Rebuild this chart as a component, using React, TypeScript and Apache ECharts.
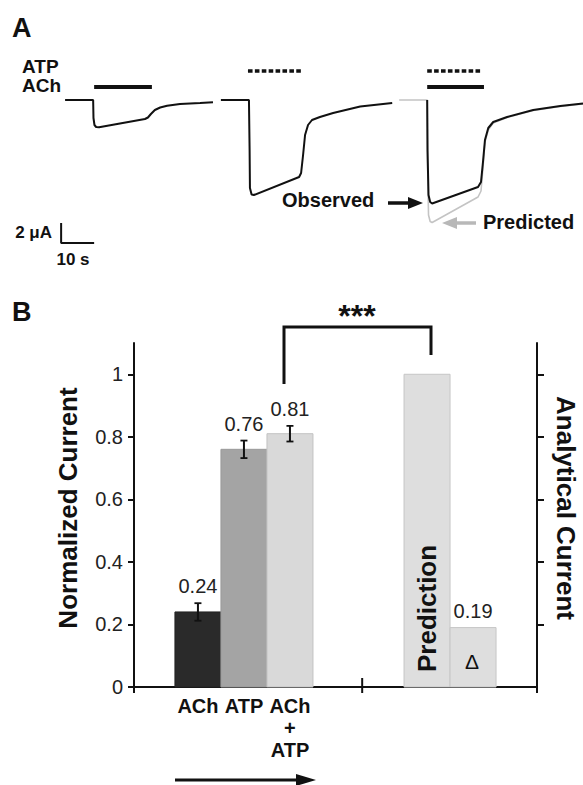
import React, { useEffect, useRef } from 'react';
import * as echarts from 'echarts';

const FONT = '"Liberation Sans", Arial, Helvetica, sans-serif';

// ---------- Panel A: current traces [time (s), current (µA)] ----------
const traceACh: [number, number][] = [
  [7.6, 0], [16.1, 0], [16.2, -1.8], [16.5, -2.5], [17.0, -2.7], [17.9, -2.73],
  [31.8, -1.9], [32.7, -1.75], [33.6, -1.4], [34.8, -1.0], [36.4, -0.75],
  [38.5, -0.58], [42.4, -0.4], [48.5, -0.3], [52.4, -0.23],
];
const traceATP: [number, number][] = [
  [54.8, 0], [63.3, 0], [63.5, -5], [63.6, -8.8], [64.1, -9.45], [64.8, -9.5],
  [78.5, -7.7], [79.1, -7.3], [79.7, -5.5], [80.3, -3.5], [81.2, -2.5],
  [82.4, -2.0], [84.8, -1.7], [88.8, -1.3], [97.0, -0.65], [106.7, -0.3],
];
const traceObserved: [number, number][] = [
  [117.3, 0], [117.4, -5], [117.7, -9.5], [118.2, -10.2], [118.8, -10.35],
  [132.7, -8.7], [133.6, -8.2], [134.2, -6.2], [134.8, -4.0], [135.8, -2.8],
  [137.3, -2.2], [141.5, -1.7], [149.4, -1.0], [157.6, -0.6], [164.5, -0.35],
];
const tracePredicted: [number, number][] = [
  [108.8, 0], [117.3, 0], [117.4, -6], [117.7, -11.5], [118.2, -12.15], [118.8, -12.25],
  [132.7, -9.7], [133.6, -9.1], [134.2, -6.8], [134.8, -4.2], [135.8, -3.0],
  [137.3, -2.3], [141.5, -1.75], [149.4, -1.05], [157.6, -0.65], [164.5, -0.4],
];
const achApplications: [number, number][] = [[16.4, 33.9], [117.3, 134.5]];
const atpApplications: [number, number][] = [[63.0, 79.7], [117.3, 133.6]];
const stimulusLabels = ['ATP', 'ACh'];
const scaleTime = 10; // s
const scaleCurrent = 2; // µA

// ---------- Panel B: normalized currents ----------
const measuredCategories = ['ACh', 'ATP', 'ACh\n+\nATP'];
const measuredValues = [0.24, 0.76, 0.81];
const measuredErrors = [0.028, 0.028, 0.025];
const analyticalCategories = ['Prediction', 'Δ'];
const analyticalValues = [1.0, 0.19];
const yTickValues = [0, 0.2, 0.4, 0.6, 0.8, 1];

const GROUP_START = 0.89;
const ANALYTIC_START = 5.87;
const DIVIDER = 4.96;
const X_MAX = 8.76;

const measuredColors = [
  { fill: '#2a2a2a', stroke: '#222' },
  { fill: '#a4a4a4', stroke: '#999' },
  { fill: '#d9d9d9', stroke: '#c2c2c2' },
];
const analyticColors = [
  { fill: '#dedede', stroke: '#c6c6c6' },
  { fill: '#dedede', stroke: '#c6c6c6' },
];

export default function App() {
  const ref = useRef<HTMLDivElement>(null);

  useEffect(() => {
    if (!ref.current) return;
    const chart = echarts.init(ref.current, undefined, { renderer: 'svg' });

    const ACH_LEVEL = 1.3;
    const ATP_LEVEL = 2.9;
    const SB_T = 6.4;
    const SB_I = -14.3;

    const stimSeries: any[] = [];
    achApplications.forEach((iv) => {
      stimSeries.push({
        type: 'line', xAxisIndex: 0, yAxisIndex: 0, symbol: 'none', silent: true,
        data: [[iv[0], ACH_LEVEL], [iv[1], ACH_LEVEL]],
        lineStyle: { color: '#111', width: 4 },
      });
    });
    atpApplications.forEach((iv) => {
      stimSeries.push({
        type: 'line', xAxisIndex: 0, yAxisIndex: 0, symbol: 'none', silent: true,
        data: [[iv[0], ATP_LEVEL], [iv[1], ATP_LEVEL]],
        lineStyle: { color: '#111', width: 3.5, type: [4.6, 2.3] },
      });
    });

    const traceLine = (data: [number, number][], color: string, width: number) => ({
      type: 'line', xAxisIndex: 0, yAxisIndex: 0, symbol: 'none', silent: true,
      data, lineStyle: { color, width }, z: 3,
    });

    const barRender = (colors: { fill: string; stroke: string }[], names: string[]) =>
      (params: any, api: any) => {
        const x = api.value(0);
        const v = api.value(1);
        const e = api.value(2);
        const idx = api.value(3);
        const tl = api.coord([x - 0.5, v]);
        const br = api.coord([x + 0.5, 0]);
        const cx = (tl[0] + br[0]) / 2;
        const children: any[] = [
          {
            type: 'rect',
            shape: { x: tl[0], y: tl[1], width: br[0] - tl[0], height: br[1] - tl[1] },
            style: { fill: colors[idx].fill, stroke: colors[idx].stroke, lineWidth: 1 },
          },
        ];
        let top = tl[1];
        if (e > 0) {
          const pt = api.coord([x, v + e]);
          const pb = api.coord([x, v - e]);
          top = pt[1];
          children.push({ type: 'line', shape: { x1: cx, y1: pt[1], x2: cx, y2: pb[1] }, style: { stroke: '#111', lineWidth: 2 } });
          children.push({ type: 'line', shape: { x1: cx - 3.5, y1: pt[1], x2: cx + 3.5, y2: pt[1] }, style: { stroke: '#111', lineWidth: 1.8 } });
          children.push({ type: 'line', shape: { x1: cx - 3.5, y1: pb[1], x2: cx + 3.5, y2: pb[1] }, style: { stroke: '#111', lineWidth: 1.8 } });
        }
        const name = names[idx];
        if (name === 'Prediction') {
          children.push({
            type: 'text', x: cx, y: br[1] - 15, rotation: Math.PI / 2,
            style: { text: name, fontFamily: FONT, fontSize: 26, fontWeight: 'bold', fill: '#111', align: 'left', verticalAlign: 'middle' },
          });
        } else {
          children.push({
            type: 'text', x: cx, y: top - 17,
            style: { text: v.toFixed(2), fontFamily: FONT, fontSize: 20, fill: '#222', align: 'center', verticalAlign: 'middle' },
          });
          if (name === 'Δ') {
            children.push({
              type: 'text', x: cx - 1, y: br[1] - 26,
              style: { text: name, fontFamily: FONT, fontSize: 21, fill: '#111', align: 'center', verticalAlign: 'middle' },
            });
          }
        }
        return { type: 'group', children };
      };

    const option: any = {
      animation: false,
      backgroundColor: '#fff',
      textStyle: { fontFamily: FONT },
      grid: [
        { left: 40, right: 0, top: 60, height: 190 },
        { left: 134, right: 46, top: 343, bottom: 98 },
      ],
      xAxis: [
        { type: 'value', gridIndex: 0, min: 0, max: 164.5, show: false },
        {
          type: 'value', gridIndex: 1, min: 0, max: X_MAX,
          splitLine: { show: false },
          axisLine: { show: true, onZero: false, lineStyle: { color: '#111', width: 2 } },
          axisTick: { show: true, customValues: [0, X_MAX], length: 6, lineStyle: { color: '#111', width: 2 } },
          axisLabel: {
            show: true,
            customValues: measuredCategories.map((_, i) => GROUP_START + 0.5 + i),
            formatter: (val: number) => {
              const i = Math.round(val - GROUP_START - 0.5);
              return measuredCategories[i] ?? '';
            },
            fontFamily: FONT, fontSize: 20, fontWeight: 'bold', color: '#111',
            lineHeight: 22, margin: 8,
          },
        },
      ],
      yAxis: [
        { type: 'value', gridIndex: 0, min: -15, max: 4, show: false },
        {
          type: 'value', gridIndex: 1, min: 0, max: 1.1, position: 'left',
          splitLine: { show: false },
          axisLine: { show: true, lineStyle: { color: '#111', width: 2 } },
          axisTick: { show: true, customValues: yTickValues, length: 6, lineStyle: { color: '#111', width: 2 } },
          axisLabel: {
            show: true, customValues: yTickValues, margin: 11,
            fontFamily: FONT, fontSize: 20, color: '#222',
          },
        },
        {
          type: 'value', gridIndex: 1, min: 0, max: 1.1, position: 'right',
          splitLine: { show: false },
          axisLine: { show: true, lineStyle: { color: '#111', width: 2 } },
          axisTick: { show: true, customValues: yTickValues.slice(1), length: 7, lineStyle: { color: '#111', width: 2 } },
          axisLabel: { show: false },
        },
      ],
      series: [
        ...stimSeries,
        traceLine(traceACh, '#111', 2),
        traceLine(traceATP, '#111', 2),
        traceLine(tracePredicted, '#c4c4c4', 1.6),
        traceLine(traceObserved, '#111', 2),
        {
          type: 'line', xAxisIndex: 0, yAxisIndex: 0, symbol: 'none', silent: true,
          data: [[SB_T, SB_I + scaleCurrent], [SB_T, SB_I], [SB_T + scaleTime, SB_I]],
          lineStyle: { color: '#111', width: 2 },
        },
        {
          type: 'custom', xAxisIndex: 1, yAxisIndex: 1, silent: true,
          renderItem: barRender(measuredColors, measuredCategories),
          data: measuredValues.map((v, i) => [GROUP_START + 0.5 + i, v, measuredErrors[i], i]),
        },
        {
          type: 'custom', xAxisIndex: 1, yAxisIndex: 1, silent: true,
          renderItem: barRender(analyticColors, analyticalCategories),
          data: analyticalValues.map((v, i) => [ANALYTIC_START + 0.5 + i, v, 0, i]),
        },
        {
          type: 'custom', xAxisIndex: 1, yAxisIndex: 1, silent: true,
          renderItem: (params: any, api: any) => {
            const p = api.coord([api.value(0), 0]);
            return { type: 'line', shape: { x1: p[0], y1: p[1] - 9, x2: p[0], y2: p[1] + 6 }, style: { stroke: '#111', lineWidth: 2 } };
          },
          data: [[DIVIDER]],
          z: 5,
        },
      ],
      graphic: [
        { type: 'text', x: 12, y: 28, style: { text: 'A', fontFamily: FONT, fontSize: 27, fontWeight: 'bold', fill: '#111', verticalAlign: 'middle' } },
        { type: 'text', x: 22, y: 66, style: { text: stimulusLabels[0], fontFamily: FONT, fontSize: 19, lineHeight: 19, fontWeight: 'bold', fill: '#111', verticalAlign: 'middle' } },
        { type: 'text', x: 22, y: 85.5, style: { text: stimulusLabels[1], fontFamily: FONT, fontSize: 19, lineHeight: 19, fontWeight: 'bold', fill: '#111', verticalAlign: 'middle' } },
        { type: 'text', x: 282, y: 200, style: { text: 'Observed', fontFamily: FONT, fontSize: 20, fontWeight: 'bold', fill: '#111', verticalAlign: 'middle' } },
        { type: 'line', shape: { x1: 388, y1: 203, x2: 410, y2: 203 }, style: { stroke: '#111', lineWidth: 3.5 } },
        { type: 'polygon', shape: { points: [[408, 197], [423, 203], [408, 209]] }, style: { fill: '#111' } },
        { type: 'text', x: 483, y: 222, style: { text: 'Predicted', fontFamily: FONT, fontSize: 20, fontWeight: 'bold', fill: '#111', verticalAlign: 'middle' } },
        { type: 'line', shape: { x1: 455, y1: 223, x2: 476, y2: 223 }, style: { stroke: '#b8b8b8', lineWidth: 3.5 } },
        { type: 'polygon', shape: { points: [[442, 223], [457, 217], [457, 229]] }, style: { fill: '#b8b8b8' } },
        { type: 'text', x: 52, y: 232, style: { text: '2 μA', fontFamily: FONT, fontSize: 17, fontWeight: 'bold', fill: '#111', align: 'right', verticalAlign: 'middle' } },
        { type: 'text', x: 73, y: 259, style: { text: '10 s', fontFamily: FONT, fontSize: 17, fontWeight: 'bold', fill: '#111', align: 'center', verticalAlign: 'middle' } },
        { type: 'text', x: 12, y: 312, style: { text: 'B', fontFamily: FONT, fontSize: 27, fontWeight: 'bold', fill: '#111', verticalAlign: 'middle' } },
        { type: 'text', x: 357, y: 316, style: { text: '***', fontFamily: FONT, fontSize: 32, fontWeight: 'bold', fill: '#111', align: 'center', verticalAlign: 'middle' } },
        { type: 'polyline', shape: { points: [[284, 384], [284, 327], [431, 327], [431, 355]] }, style: { stroke: '#111', lineWidth: 3, fill: 'none' } },
        { type: 'text', x: 67.5, y: 508, rotation: Math.PI / 2, style: { text: 'Normalized Current', fontFamily: FONT, fontSize: 26, fontWeight: 'bold', fill: '#111', align: 'center', verticalAlign: 'middle' } },
        { type: 'text', x: 566, y: 508, rotation: -Math.PI / 2, style: { text: 'Analytical Current', fontFamily: FONT, fontSize: 26, fontWeight: 'bold', fill: '#111', align: 'center', verticalAlign: 'middle' } },
        { type: 'line', shape: { x1: 175, y1: 780, x2: 298, y2: 780 }, style: { stroke: '#111', lineWidth: 3 } },
        { type: 'polygon', shape: { points: [[296, 774], [316, 780], [296, 786]] }, style: { fill: '#111' } },
      ],
    };

    chart.setOption(option);
    return () => chart.dispose();
  }, []);

  return (
    <div
      ref={ref}
      style={{ position: 'fixed', left: 0, top: 0, width: 583, height: 785, background: '#fff' }}
    />
  );
}
